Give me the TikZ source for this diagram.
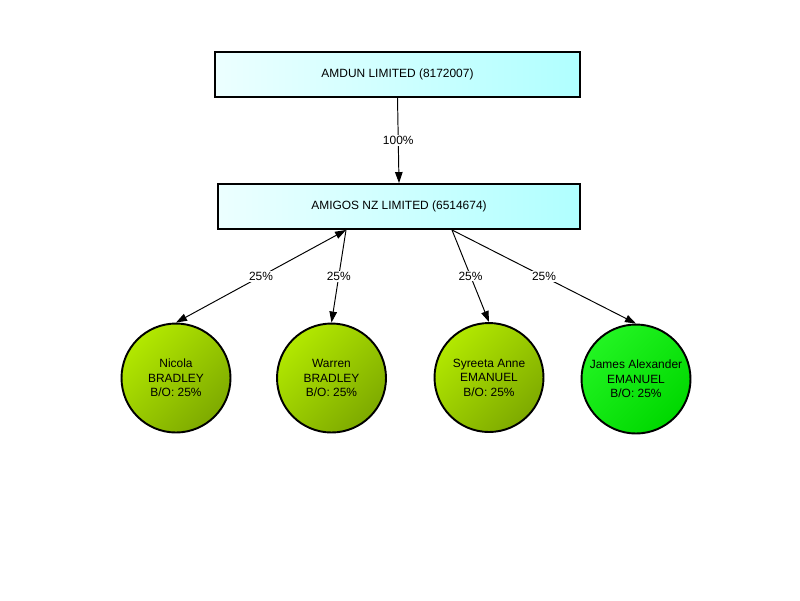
\documentclass[tikz,border=0pt]{standalone}
\usepackage{fontspec}
\setmainfont{Liberation Sans}
\usepackage{tikz}
\usetikzlibrary{arrows.meta,positioning}
\definecolor{companyleft}{RGB}{236,255,255}
\definecolor{companyright}{RGB}{176,255,255}
\definecolor{ownerlight}{RGB}{178,232,0}
\definecolor{ownerdark}{RGB}{126,170,0}
\definecolor{greenlight}{RGB}{34,244,34}
\definecolor{greendark}{RGB}{0,216,0}
\tikzset{
  company/.style={draw=black,line width=1.1pt,left color=companyleft,
    right color=companyright,minimum height=0.9cm,inner sep=0pt,
    font=\fontsize{6.8}{8.2}\selectfont},
  owner/.style={circle,draw=black,line width=1.1pt,top color=ownerlight,
    bottom color=ownerdark,shading angle=45,minimum size=2.18cm,
    inner sep=0pt,align=center,font=\fontsize{6.8}{8.2}\selectfont},
  bigowner/.style={owner,top color=greenlight,bottom color=greendark,
    shading angle=45},
  link/.style={-{Triangle[length=2.2mm,width=1.5mm]},line width=0.55pt},
  twolink/.style={{Triangle[length=2.2mm,width=1.5mm]}-{Triangle[length=2.2mm,width=1.5mm]},
    line width=0.55pt},
  share/.style={fill=white,inner sep=0.6pt,
    font=\fontsize{6.8}{8.2}\selectfont}
}

\begin{document}
\begin{tikzpicture}[x=0.02cm,y=-0.02cm]
  \useasboundingbox (0,0) rectangle (800,600);
  \node[company,minimum width=7.3cm] (amdun) at (397.5,74.5)
    {AMDUN LIMITED (8172007)};
  \node[company,minimum width=7.24cm] (amigos) at (399,206.5)
    {AMIGOS NZ LIMITED (6514674)};
  \coordinate (amigosL) at ([xshift=-1.06cm]amigos.south);
  \coordinate (amigosR) at ([xshift=1.06cm]amigos.south);
  \node[owner] (nicola) at (176,378) {Nicola\\BRADLEY\\B/O: 25\%};
  \node[owner] (warren) at (331.5,378) {Warren\\BRADLEY\\B/O: 25\%};
  \node[owner] (syreeta) at (489,377.5) {Syreeta Anne\\EMANUEL\\B/O: 25\%};
  \node[bigowner] (james) at (636,379) {James Alexander\\EMANUEL\\B/O: 25\%};
  \draw[link] (amdun.south) -- node[share] {100\%} (amigos.north);
  \draw[twolink] (amigosL) -- node[share] {25\%} (nicola.north);
  \draw[link] (amigosL) -- node[share] {25\%} (warren.north);
  \draw[link] (amigosR) -- node[share] {25\%} (syreeta.north);
  \draw[link] (amigosR) -- node[share] {25\%} (james.north);
\end{tikzpicture}
\end{document}
